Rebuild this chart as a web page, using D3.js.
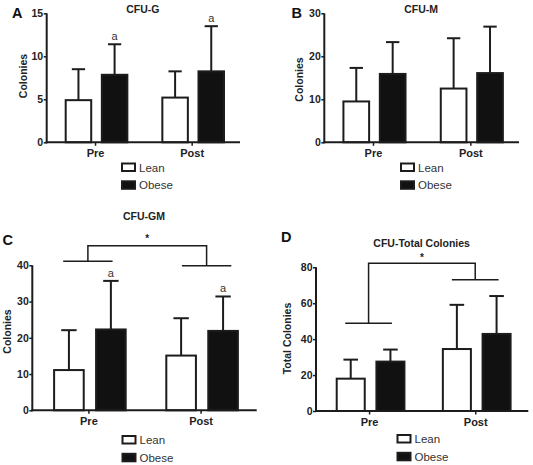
<!DOCTYPE html>
<html><head><meta charset="utf-8">
<script src="https://cdn.jsdelivr.net/npm/d3@7"></script>
<style>
body{margin:0;background:#fff;}
svg{display:block;font-family:"Liberation Sans",Arial,Helvetica,sans-serif;}
</style></head>
<body><svg id="c" width="533" height="465"></svg>
<script>
// ---- data ----
const categories = ["Pre", "Post"];
const seriesNames = ["Lean", "Obese"];

const cfuG_mean = { Lean: [4.9, 5.2], Obese: [7.85, 8.25] };
const cfuG_err  = { Lean: [8.5, 8.25], Obese: [11.4, 13.5] };
const cfuG_sig  = { Lean: ["", ""], Obese: ["a", "a"] };

const cfuM_mean = { Lean: [9.5, 12.5], Obese: [15.9, 16.1] };
const cfuM_err  = { Lean: [17.3, 24.2], Obese: [23.3, 26.9] };
const cfuM_sig  = { Lean: ["", ""], Obese: ["", ""] };

const cfuGM_mean = { Lean: [11.1, 15.1], Obese: [22.3, 21.9] };
const cfuGM_err  = { Lean: [22.1, 25.4], Obese: [35.7, 31.4] };
const cfuGM_sig  = { Lean: ["", ""], Obese: ["a", "a"] };

const cfuT_mean = { Lean: [18.0, 34.5], Obese: [27.5, 42.9] };
const cfuT_err  = { Lean: [28.6, 59.1], Obese: [34.2, 64.0] };
const cfuT_sig  = { Lean: ["", ""], Obese: ["", ""] };

const ticksG = [0, 5, 10, 15];
const ticksM = [0, 10, 20, 30];
const ticksGM = [0, 10, 20, 30, 40];
const ticksT = [0, 20, 40, 60, 80];

// ---- layout ----
const panels = [
  { letter: "A", title: "CFU-G", ylab: "Colonies", mean: cfuG_mean, err: cfuG_err, sig: cfuG_sig, ticks: ticksG, ymax: 15,
    x0: 46.7, x1: 240, yT: 13.3, yB: 142.3, letterX: 12, letterY: 17.5, titleY: 12.5, ylabX: 26.5, ylabY: 76,
    legX: 121, legY: 162.5 },
  { letter: "B", title: "CFU-M", ylab: "Colonies", mean: cfuM_mean, err: cfuM_err, sig: cfuM_sig, ticks: ticksM, ymax: 30,
    x0: 324.3, x1: 519, yT: 13.3, yB: 142.3, letterX: 291.5, letterY: 17.5, titleY: 12.5, ylabX: 303, ylabY: 79.5,
    legX: 400, legY: 162.5 },
  { letter: "C", title: "CFU-GM", ylab: "Colonies", mean: cfuGM_mean, err: cfuGM_err, sig: cfuGM_sig, ticks: ticksGM, ymax: 40,
    x0: 32.3, x1: 256.7, yT: 265.3, yB: 410.3, letterX: 2.5, letterY: 245, titleY: 219.5, ylabX: 11, ylabY: 331.5,
    legX: 121.5, legY: 435,
    bracket: { top: 45.4, left: 41.1, right: 39.9, star: 238, rightShift: 6 } },
  { letter: "D", title: "CFU-Total Colonies", ylab: "Total Colonies", mean: cfuT_mean, err: cfuT_err, sig: cfuT_sig, ticks: ticksT, ymax: 80,
    x0: 316, x1: 528.3, yT: 267.3, yB: 411, letterX: 281, letterY: 242, titleY: 246.7, ylabX: 290.5, ylabY: 338.5,
    legX: 396.5, legY: 434,
    bracket: { top: 82.3, left: 48.9, right: 73.0, star: 256.7, rightShift: 0 } }
];

const ink = "#1c1c1c";
const svg = d3.select("#c");

panels.forEach(p => {
  const g = svg.append("g");
  const x = d3.scalePoint().domain(categories).range([p.x0, p.x1]).padding(0.5);
  const step = x.step();
  const y = d3.scaleLinear().domain([0, p.ymax]).range([p.yB, p.yT]);
  const bw = step * 0.264, gap = step * 0.11;
  const xs = d3.scaleOrdinal().domain(seriesNames).range([-gap / 2 - bw, gap / 2]);

  // bars
  seriesNames.forEach(s => {
    categories.forEach((c, i) => {
      const left = x(c) + xs(s) + 1.5;
      const cx = left + bw / 2;
      const top = y(p.mean[s][i]);
      const et = y(p.err[s][i]);
      // error bar
      g.append("line").attr("x1", cx).attr("x2", cx).attr("y1", top).attr("y2", et)
        .attr("stroke", ink).attr("stroke-width", 2);
      g.append("line").attr("x1", cx - bw * 0.26).attr("x2", cx + bw * 0.26).attr("y1", et).attr("y2", et)
        .attr("stroke", ink).attr("stroke-width", 2);
      g.append("rect").attr("x", left).attr("y", top).attr("width", bw).attr("height", p.yB - top)
        .attr("fill", s === "Lean" ? "#fff" : "#111").attr("stroke", ink).attr("stroke-width", 2);
      if (p.sig[s][i]) {
        g.append("text").attr("x", cx).attr("y", et - 4).attr("text-anchor", "middle")
          .attr("font-size", 11).attr("fill", "#333").text(p.sig[s][i]);
      }
    });
  });

  // axes
  const ya = g.append("g").attr("transform", `translate(${p.x0},0)`)
    .call(d3.axisLeft(y).tickValues(p.ticks).tickSize(3).tickPadding(0.5).tickFormat(d3.format("d")));
  ya.select(".domain").attr("stroke", ink).attr("stroke-width", 2).attr("d", `M0,${p.yT}V${p.yB + 1}`);
  ya.selectAll(".tick line").attr("stroke", ink).attr("stroke-width", 1.5);
  ya.selectAll(".tick text").attr("font-size", 10.5).attr("font-weight", "bold").attr("fill", "#222")
    .attr("font-family", "Liberation Sans, Arial, sans-serif");

  const xa = g.append("g").attr("transform", `translate(0,${p.yB})`)
    .call(d3.axisBottom(x).tickSize(3.5).tickPadding(3.5));
  xa.select(".domain").attr("stroke", ink).attr("stroke-width", 2).attr("d", `M${p.x0 - 1},0H${p.x1}`);
  xa.selectAll(".tick line").attr("stroke", ink).attr("stroke-width", 1.5);
  xa.selectAll(".tick text").attr("font-size", 11).attr("font-weight", "bold").attr("fill", "#222")
    .attr("font-family", "Liberation Sans, Arial, sans-serif");

  // y label
  g.append("text").attr("transform", `translate(${p.ylabX},${p.ylabY}) rotate(-90)`)
    .attr("text-anchor", "middle").attr("font-size", 10.5).attr("font-weight", "bold").attr("fill", "#222").text(p.ylab);

  // title
  g.append("text").attr("x", (p.x0 + p.x1) / 2 - 0.5).attr("y", p.titleY).attr("text-anchor", "middle")
    .attr("font-size", 10.5).attr("font-weight", "bold").attr("fill", "#222").text(p.title);

  // letter
  g.append("text").attr("x", p.letterX).attr("y", p.letterY).attr("font-size", 14.5).attr("font-weight", "bold")
    .attr("fill", "#111").text(p.letter);

  // legend
  seriesNames.forEach((s, i) => {
    const ly = p.legY + i * 17.8;
    g.append("rect").attr("x", p.legX + 1).attr("y", ly + 1).attr("width", 13).attr("height", 7.5)
      .attr("fill", s === "Lean" ? "#fff" : "#111").attr("stroke", ink).attr("stroke-width", 2);
    g.append("text").attr("x", p.legX + 18).attr("y", ly + 9).attr("font-size", 11.5).attr("fill", "#333").text(s);
  });

  // significance bracket
  if (p.bracket) {
    const b = p.bracket;
    const xl = x(categories[0]) - 0.5, xr = x(categories[1]) + b.rightShift;
    const arm = step * 0.22;
    const path = `M${xl},${y(b.left)}V${y(b.top)}H${xr}V${y(b.right)}`;
    g.append("path").attr("d", path).attr("fill", "none").attr("stroke", ink).attr("stroke-width", 1.5);
    g.append("line").attr("x1", xl - arm).attr("x2", xl + arm).attr("y1", y(b.left)).attr("y2", y(b.left))
      .attr("stroke", ink).attr("stroke-width", 1.5);
    g.append("line").attr("x1", xr - arm).attr("x2", xr + arm).attr("y1", y(b.right)).attr("y2", y(b.right))
      .attr("stroke", ink).attr("stroke-width", 1.5);
    g.append("text").attr("x", (xl + xr) / 2).attr("y", b.star + 4).attr("text-anchor", "middle")
      .attr("font-size", 10).attr("font-weight", "bold").attr("fill", "#222").text("*");
  }
});
</script></body></html>
